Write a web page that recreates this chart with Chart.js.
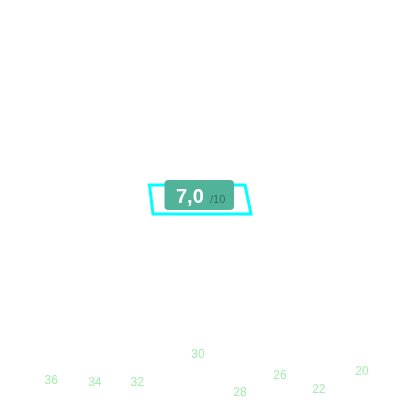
<!DOCTYPE html>
<html>
<head>
<meta charset="utf-8">
<script src="https://cdn.jsdelivr.net/npm/chart.js@4/dist/chart.umd.min.js"></script>
<style>
  html, body { margin: 0; padding: 0; background: #fff; }
  #wrap { width: 400px; height: 400px; }
</style>
</head>
<body>
<div id="wrap"><canvas id="scoreChart"></canvas></div>
<script>
// values shown as labels, and where each one sits (percent of width / height)
var labels = [36, 34, 32, 30, 28, 26, 22, 20];
var xs = [12.8, 23.7, 34.3, 49.5, 60.0, 70.0, 79.7, 90.5];
var ys = [4.9, 4.4, 4.4, 11.4, 1.8, 6.0, 2.5, 7.2];
var score = '7,0';
var scoreMax = '/10';

var points = labels.map(function (v, i) { return { x: xs[i], y: ys[i] }; });

// draw the value text at each point
var valueLabels = {
    id: 'valueLabels',
    afterDatasetsDraw: function (chart) {
        var ctx = chart.ctx;
        var meta = chart.getDatasetMeta(0);
        ctx.save();
        ctx.font = '12px "Liberation Sans", Arial, sans-serif';
        ctx.fillStyle = '#a4eeae';
        ctx.textAlign = 'center';
        ctx.textBaseline = 'middle';
        meta.data.forEach(function (pt, i) {
            ctx.fillText(String(labels[i]), pt.x, pt.y);
        });
        ctx.restore();
    }
};

// score badge in the middle
var scoreBadge = {
    id: 'scoreBadge',
    afterDraw: function (chart) {
        var ctx = chart.ctx;
        var a = chart.chartArea;
        var cx = (a.left + a.right) / 2;
        var cy = (a.top + a.bottom) / 2;
        ctx.save();
        ctx.strokeStyle = '#00ffff';
        ctx.lineWidth = 3;
        ctx.beginPath();
        ctx.moveTo(cx - 50.5, cy - 15);
        ctx.lineTo(cx + 45, cy - 15);
        ctx.lineTo(cx + 51, cy + 14);
        ctx.lineTo(cx - 47, cy + 14);
        ctx.closePath();
        ctx.stroke();

        ctx.fillStyle = '#52b39b';
        ctx.beginPath();
        ctx.roundRect(cx - 35.5, cy - 20, 69.5, 30, 4);
        ctx.fill();

        ctx.textBaseline = 'alphabetic';
        ctx.textAlign = 'left';
        ctx.font = 'bold 20px "Liberation Sans", Arial, sans-serif';
        ctx.fillStyle = '#ffffff';
        ctx.fillText(score, cx - 24, cy + 3);
        ctx.font = '11px "Liberation Sans", Arial, sans-serif';
        ctx.fillStyle = '#2f6e5f';
        ctx.fillText(scoreMax, cx + 10, cy + 3);
        ctx.restore();
    }
};

var ctx = document.getElementById('scoreChart').getContext('2d');
var chart = new Chart(ctx, {
    type: 'scatter',
    data: {
        datasets: [{
            data: points,
            pointRadius: 0,
            pointHoverRadius: 0
        }]
    },
    options: {
        responsive: true,
        maintainAspectRatio: false,
        animation: false,
        layout: { padding: 0 },
        plugins: { legend: { display: false }, tooltip: { enabled: false } },
        scales: {
            x: { display: false, min: 0, max: 100 },
            y: { display: false, min: 0, max: 100 }
        }
    },
    plugins: [valueLabels, scoreBadge]
});
</script>
</body>
</html>
